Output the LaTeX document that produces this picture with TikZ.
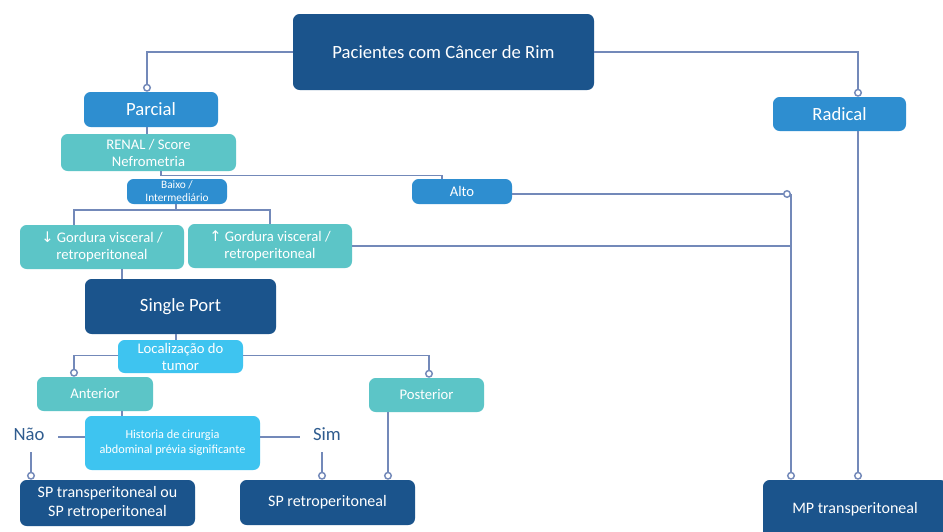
\documentclass[tikz,border=0pt]{standalone}
\usepackage{fontspec}
\setmainfont{Carlito}
\newfontfamily\arrowfont{DejaVu Sans}
\usetikzlibrary{arrows.meta}
\definecolor{dkblue}{HTML}{1B548C}
\definecolor{mdblue}{HTML}{2E8ED0}
\definecolor{tealb}{HTML}{5CC5C7}
\definecolor{ltblue}{HTML}{3EC4F0}
\definecolor{linec}{HTML}{7389B9}
\definecolor{txtblue}{HTML}{2F5C8F}
\begin{document}
\begin{tikzpicture}[x=0.75pt,y=-0.75pt,
  box/.style={draw=none, rounded corners=5pt, inner sep=0pt, text=white, align=center},
  dk/.style={box, fill=dkblue},
  md/.style={box, fill=mdblue},
  tl/.style={box, fill=tealb},
  lb/.style={box, fill=ltblue},
  fA/.style={font=\fontsize{14}{17}\selectfont},
  fB/.style={font=\fontsize{12}{14.2}\selectfont},
  fC/.style={font=\fontsize{11}{12.8}\selectfont},
  fD/.style={font=\fontsize{9.2}{11.2}\selectfont},
  fE/.style={font=\fontsize{8.5}{9.75}\selectfont},
  lbl/.style={text=txtblue, inner sep=0pt, font=\fontsize{14}{17}\selectfont},
  conn/.style={draw=linec, line width=1.1pt},
  dot/.style={conn, -{Circle[open, length=6pt, width=6pt, fill=white, line width=1.1pt]}}]
\useasboundingbox (0,0) rectangle (943,532);
\clip (0,0) rectangle (943,532);
\fill[white] (0,0) rectangle (943,532);

% nodes
\node[dk,fA,minimum width=225.75pt,minimum height=57pt] (pac) at (443.5,52) {Pacientes com Câncer de Rim};
\node[md,fA,minimum width=100.5pt,minimum height=26.25pt] (parc) at (151,109.5) {Parcial};
\node[md,fA,minimum width=99.75pt,minimum height=25.5pt] (rad) at (839.5,114) {Radical};
\node[tl,fC,minimum width=131.25pt,minimum height=27.75pt] (renal) at (148.5,152.5) {RENAL / Score\\Nefrometria};
\node[md,fE,minimum width=75pt,minimum height=18.75pt] (baixo) at (177,191.5) {Baixo /\\Intermediário};
\node[md,fC,minimum width=75pt,minimum height=18.75pt] (alto) at (462,191.5) {Alto};
\node[tl,fC,minimum width=123pt,minimum height=33pt] (gd) at (102,247) {{\arrowfont\fontsize{11}{12}\selectfont ↓} Gordura visceral /\\retroperitoneal};
\node[tl,fC,minimum width=123pt,minimum height=33pt] (gu) at (270,246) {{\arrowfont\fontsize{11}{12}\selectfont ↑} Gordura visceral /\\retroperitoneal};
\node[dk,fA,minimum width=143.25pt,minimum height=41.25pt] (sp) at (180.5,306.5) {Single Port};
\node[lb,fC,minimum width=93.75pt,minimum height=24.75pt] (loc) at (180.5,356.5) {Localização do\\tumor};
\node[tl,fC,minimum width=87pt,minimum height=25.5pt] (ant) at (95,394) {Anterior};
\node[tl,fC,minimum width=86.25pt,minimum height=25.5pt] (post) at (426.5,395) {Posterior};
\node[lb,fD,minimum width=131.25pt,minimum height=40.5pt] (hist) at (172.5,443) {Historia de cirurgia\\abdominal prévia significante};
\node[lbl,minimum width=43.5pt,minimum height=27pt] (nao) at (29,434) {Não};
\node[lbl,minimum width=40.5pt,minimum height=27pt] (sim) at (327,434) {Sim};
\node[dk,fB,minimum width=131.25pt,minimum height=34.5pt] (spt) at (107.5,503) {SP transperitoneal ou\\SP retroperitoneal};
\node[dk,fB,minimum width=131.25pt,minimum height=33.75pt] (spr) at (327.5,502.5) {SP retroperitoneal};
\node[dk,fB,minimum width=138pt,minimum height=43.5pt] (mp) at (855,509) {MP transperitoneal};

% junction coordinates
\coordinate (pX) at (147,52);
\coordinate (rX) at (858,52);
\coordinate (rA) at (161,175.5);
\coordinate (aL) at (442,175.5);
\coordinate (bJ) at (176,210);
\coordinate (gX) at (74,210);
\coordinate (mJ) at (791,194);
\coordinate (sX) at (122,0);
\coordinate (lX) at (176,355.7);
\coordinate (aX) at (74,0);
\coordinate (qX) at (429,0);
\coordinate (hX) at (122,0);
\coordinate (hY) at (0,437);
\coordinate (nX) at (31,0);
\coordinate (smX) at (322,0);
\coordinate (poX) at (388,0);

% connectors
\draw[dot] (pac.west) -| (parc.north -| pX);
\draw[dot] (pac.east) -| (rad.north -| rX);
\draw[conn] (parc.south -| pX) -- (renal.north -| pX);
\draw[conn] (renal.south -| rA) -- (rA) -- (aL) -- (alto.north -| aL);
\draw[conn] (baixo.south -| bJ) -- (bJ);
\draw[conn] (gd.north -| gX) -- (gX) -| (gu.north);
\draw[dot] (alto.east |- mJ) -- (mJ);
\draw[dot] (mJ) -- (mp.north -| mJ);
\draw[conn] (gu.east) -- (gu.east -| mJ);
\draw[dot] (rad.south -| rX) -- (mp.north -| rX);
\draw[conn] (gd.south -| sX) -- (sp.north -| sX);
\draw[conn] (sp.south -| lX) -- (loc.north -| lX);
\draw[dot] (loc.west |- lX) -| (ant.north -| aX);
\draw[dot] (loc.east |- lX) -| (post.north -| qX);
\draw[conn] (ant.south -| hX) -- (hist.north -| hX);
\draw[conn] (hist.west |- hY) -- (nao.east |- hY);
\draw[conn] (hist.east |- hY) -- (sim.west |- hY);
\draw[dot] (nao.south -| nX) -- (spt.north -| nX);
\draw[dot] (sim.south -| smX) -- (spr.north -| smX);
\draw[dot] (post.south -| poX) -- (spr.north -| poX);
\end{tikzpicture}
\end{document}
